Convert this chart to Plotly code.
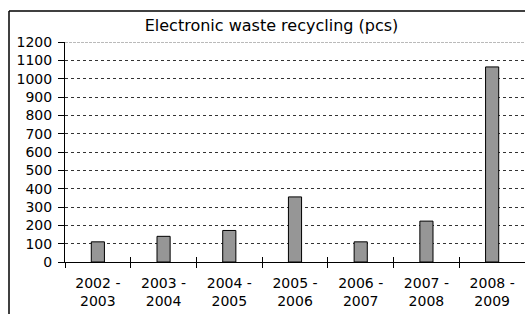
import plotly.graph_objects as go

categories = ["2002 -<br>2003", "2003 -<br>2004", "2004 -<br>2005", "2005 -<br>2006",
              "2006 -<br>2007", "2007 -<br>2008", "2008 -<br>2009"]
values = [110, 140, 172, 355, 110, 223, 1064]
y_ticks = list(range(0, 1201, 100))
title_text = "Electronic waste recycling (pcs)"

FONT = "DejaVu Sans"

fig = go.Figure()
fig.add_trace(go.Bar(
    x=categories, y=values, width=0.2,
    marker=dict(color="#969696", line=dict(color="black", width=1)),
    showlegend=False, hoverinfo="skip",
))
# helper invisible trace for inner half of cross ticks
fig.add_trace(go.Scatter(
    x=categories, y=values, xaxis="x2", mode="markers",
    marker=dict(opacity=0), showlegend=False, hoverinfo="skip",
))

frame_left = -56 / 460
frame_top = (262 - 11) / 220

fig.update_layout(
    width=525, height=314,
    margin=dict(l=65, r=0, t=42, b=52, autoexpand=False),
    paper_bgcolor="white", plot_bgcolor="white",
    font=dict(family=FONT, size=14, color="black"),
    title=dict(text=title_text, x=271.5 / 525, xanchor="center", y=1 - 25 / 314,
               yanchor="middle", font=dict(family=FONT, size=16, color="black")),
    xaxis=dict(
        type="category", showgrid=False, showline=True, linecolor="black", linewidth=1,
        ticks="outside", ticklen=5, tickcolor="black", tickson="boundaries",
        tickfont=dict(family=FONT, size=14, color="black"), ticklabelstandoff=8,
        range=[-0.5, 6.5], fixedrange=True, automargin=False,
    ),
    xaxis2=dict(
        type="category", overlaying="x", matches="x", showgrid=False, showline=False,
        ticks="inside", ticklen=5, tickcolor="black", tickson="boundaries",
        showticklabels=False, range=[-0.5, 6.5],
    ),
    yaxis=dict(
        range=[0, 1200], tickvals=y_ticks, showgrid=True, gridcolor="#333333",
        griddash="3px,3px", gridwidth=1, zeroline=False,
        showline=True, linecolor="black", linewidth=1,
        ticks="outside", ticklen=6, tickcolor="black", ticklabelstandoff=3,
        tickfont=dict(family=FONT, size=14, color="black"), automargin=False,
        fixedrange=True,
    ),
    shapes=[
        dict(type="line", xref="paper", yref="paper",
             x0=frame_left, x1=frame_left, y0=-0.4, y1=frame_top,
             line=dict(color="black", width=1.5), layer="below"),
        dict(type="line", xref="paper", yref="paper",
             x0=frame_left, x1=1.0, y0=frame_top, y1=frame_top,
             line=dict(color="black", width=1.5), layer="below"),
        dict(type="line", xref="paper", yref="y", x0=0, x1=1,
             y0=y_ticks[-1], y1=y_ticks[-1],
             line=dict(color="#777777", width=1, dash="3px,1px")),
    ],
)

fig.write_html(
    "out.html",
    config={"displayModeBar": False, "staticPlot": True},
    post_script=(
        "document.body.style.margin='0';"
        "document.body.style.overflow='hidden';"
        "document.documentElement.style.overflow='hidden';"
    ),
)
